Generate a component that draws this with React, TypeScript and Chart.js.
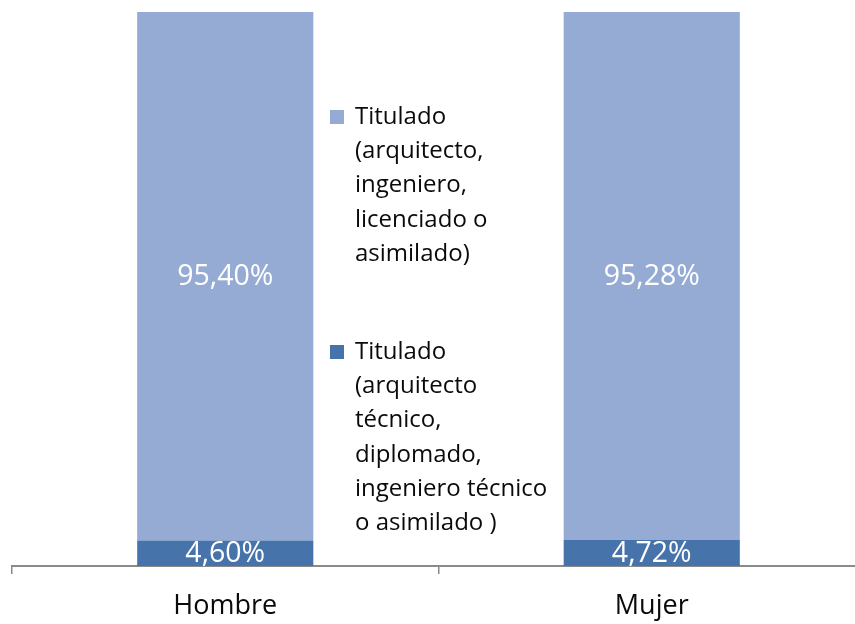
import React, { useEffect, useRef } from "react";
import { Chart, registerables } from "chart.js";

Chart.register(...registerables);

const categories = ["Hombre", "Mujer"];
const titulosSuperior = [95.4, 95.28];
const titulosMedio = [4.6, 4.72];
const legendSuperior = ["Titulado", "(arquitecto,", "ingeniero,", "licenciado o", "asimilado)"];
const legendMedio = ["Titulado", "(arquitecto", "técnico,", "diplomado,", "ingeniero técnico", "o asimilado )"];

const LIGHT = "#95abd3";
const DARK = "#4673a9";
const FONT = "'Open Sans', 'Noto Sans', sans-serif";

const dataLabelPlugin = {
  id: "dataLabelPlugin",
  afterDatasetsDraw(chart: any) {
    const ctx = chart.ctx;
    ctx.save();
    ctx.font = `28.5px ${FONT}`;
    ctx.fillStyle = "#ffffff";
    ctx.textAlign = "center";
    ctx.textBaseline = "middle";
    chart.data.datasets.forEach((ds: any, di: number) => {
      const meta = chart.getDatasetMeta(di);
      meta.data.forEach((bar: any, i: number) => {
        const v = ds.data[i] as number;
        const yc = (bar.y + bar.base) / 2;
        ctx.fillText(v.toFixed(2).replace(".", ",") + "%", bar.x, yc + 1);
      });
    });
    ctx.restore();
  },
};

const legendPlugin = {
  id: "customLegend",
  afterDraw(chart: any) {
    const ctx = chart.ctx;
    const items = [
      { color: LIGHT, lines: legendSuperior, y0: 117 },
      { color: DARK, lines: legendMedio, y0: 352 },
    ];
    const spacing = 34.3;
    ctx.save();
    ctx.font = `24px ${FONT}`;
    ctx.textAlign = "left";
    ctx.textBaseline = "middle";
    items.forEach((it) => {
      ctx.fillStyle = it.color;
      ctx.fillRect(330, it.y0 - 7, 14, 14);
      ctx.fillStyle = "#0a0a0a";
      it.lines.forEach((line, k) => {
        ctx.fillText(line, 355, it.y0 + k * spacing);
      });
    });
    ctx.restore();
  },
};

export default function App() {
  const ref = useRef<HTMLCanvasElement | null>(null);
  useEffect(() => {
    if (!ref.current) return;
    const chart = new Chart(ref.current, {
      type: "bar",
      data: {
        labels: categories,
        datasets: [
          {
            label: legendMedio.join(" "),
            data: titulosMedio,
            backgroundColor: DARK,
            borderWidth: 0,
            categoryPercentage: 1,
            barPercentage: 0.413,
          },
          {
            label: legendSuperior.join(" "),
            data: titulosSuperior,
            backgroundColor: LIGHT,
            borderWidth: 0,
            categoryPercentage: 1,
            barPercentage: 0.413,
          },
        ],
      },
      options: {
        responsive: false,
        animation: false,
        devicePixelRatio: 1,
        layout: { padding: { left: 12, top: 12, right: 0, bottom: 0 } },
        plugins: {
          legend: { display: false },
          tooltip: { enabled: false },
          title: { display: false },
        },
        scales: {
          x: {
            stacked: true,
            offset: true,
            grid: {
              display: true,
              drawOnChartArea: false,
              drawTicks: true,
              tickLength: 8,
              offset: true,
              color: "#8a8a8a",
              lineWidth: 1.5,
            },
            border: { display: true, color: "#8a8a8a", width: 2 },
            ticks: {
              color: "#0a0a0a",
              font: { family: FONT, size: 27 },
              padding: 16,
              maxRotation: 0,
            },
            afterFit: (scale: any) => {
              scale.height = 58;
            },
          },
          y: {
            stacked: true,
            display: false,
            min: 0,
            max: 100,
          },
        },
      },
      plugins: [dataLabelPlugin, legendPlugin],
    });
    return () => chart.destroy();
  }, []);
  return (
    <div
      style={{
        position: "absolute",
        left: 0,
        top: 0,
        width: 855,
        height: 624,
        overflow: "hidden",
        background: "#ffffff",
      }}
    >
      <canvas ref={ref} width={865} height={624} style={{ display: "block" }} />
    </div>
  );
}
